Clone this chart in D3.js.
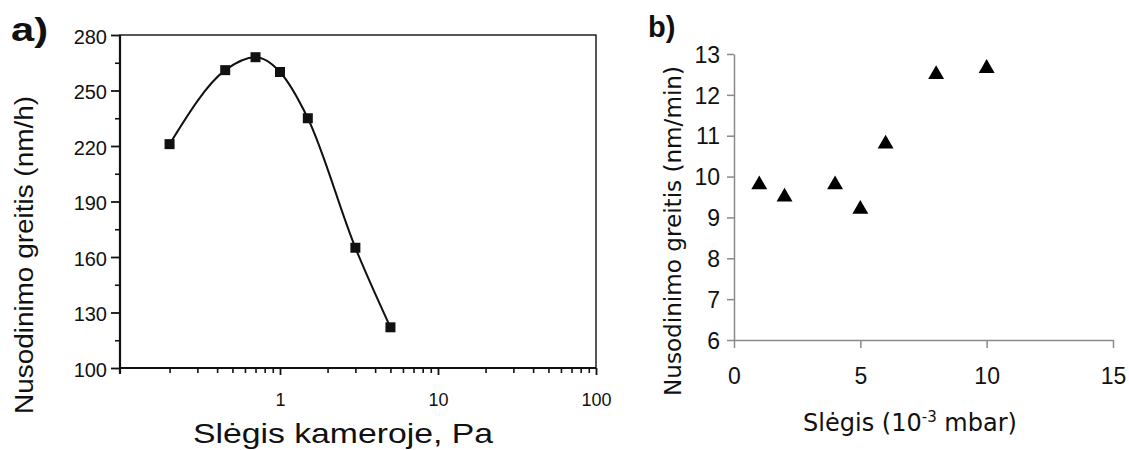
<!DOCTYPE html>
<html>
<head>
<meta charset="utf-8">
<script src="https://cdn.jsdelivr.net/npm/d3@7"></script>
<style>
  html, body { margin: 0; padding: 0; background: #fff; }
  svg { display: block; }
</style>
</head>
<body>
<div id="chart"></div>
<script>
// --- data, panel a (log x) ---
const pressureA = [0.2, 0.45, 0.7, 1, 1.5, 3, 5];
const rateA = [221, 261, 268, 260, 235, 165, 122];
const yTicksA = [100, 130, 160, 190, 220, 250, 280];
const yMinorA = [115, 145, 175, 205, 235, 265];
const xTicksA = [1, 10, 100];
const xMinorA = [0.2, 0.3, 0.4, 0.5, 0.6, 0.7, 0.8, 0.9, 2, 3, 4, 5, 6, 7, 8, 9, 20, 30, 40, 50, 60, 70, 80, 90];

// --- data, panel b ---
const pressureB = [1, 2, 4, 5, 6, 8, 10];
const rateB = [9.8, 9.5, 9.8, 9.2, 10.8, 12.5, 12.65];
const yTicksB = [6, 7, 8, 9, 10, 11, 12, 13];
const xTicksB = [0, 5, 10, 15];

(function () {
  'use strict';

  const W = 1129, H = 450;
  const ARIAL = '"Liberation Sans", Arial, Helvetica, sans-serif';
  const VERD = '"DejaVu Sans", Verdana, sans-serif';
  const INK = '#111';

  const svg = d3.select('#chart').append('svg')
    .attr('width', W).attr('height', H);
  svg.append('rect').attr('width', W).attr('height', H).attr('fill', '#fff');

  // ============ panel a ============
  const A = { left: 120, right: 596, top: 35, bottom: 368 };
  const xA = d3.scaleLog().domain([0.1, 100]).range([122, A.right]);
  const yA = d3.scaleLinear().domain([100, 280]).range([A.bottom, A.top]);
  const ga = svg.append('g');

  // frame (bottom/left heavier)
  ga.append('rect')
    .attr('x', A.left).attr('y', A.top)
    .attr('width', A.right - A.left).attr('height', A.bottom - A.top)
    .attr('fill', 'none').attr('stroke', INK).attr('stroke-width', 1.4);
  ga.append('line').attr('x1', A.left).attr('x2', A.right).attr('y1', A.bottom).attr('y2', A.bottom)
    .attr('stroke', INK).attr('stroke-width', 2.2);
  ga.append('line').attr('x1', A.left).attr('x2', A.left).attr('y1', A.top).attr('y2', A.bottom + 6)
    .attr('stroke', INK).attr('stroke-width', 2.2);

  // y axis
  ga.append('g').attr('transform', `translate(${A.left},0)`)
    .call(d3.axisLeft(yA).tickValues(yTicksA).tickSize(9).tickPadding(4).tickFormat(d3.format('d')))
    .call(g => g.select('.domain').remove())
    .call(g => g.selectAll('.tick line').attr('stroke', INK).attr('stroke-width', 1.8))
    .call(g => g.selectAll('.tick text')
      .attr('font-family', ARIAL).attr('font-size', 20).attr('fill', INK).attr('dy', '0.42em'));
  ga.append('g').attr('transform', `translate(${A.left},0)`)
    .call(d3.axisLeft(yA).tickValues(yMinorA).tickSize(5).tickFormat(''))
    .call(g => g.select('.domain').remove())
    .call(g => g.selectAll('.tick line').attr('stroke', INK).attr('stroke-width', 1.6));

  // x axis
  ga.append('g').attr('transform', `translate(0,${A.bottom})`)
    .call(d3.axisBottom(xA).tickValues(xTicksA).tickSize(7).tickPadding(18).tickFormat(d3.format('d')))
    .call(g => g.select('.domain').remove())
    .call(g => g.selectAll('.tick line').attr('stroke', INK).attr('stroke-width', 1.8))
    .call(g => g.selectAll('.tick text')
      .attr('font-family', ARIAL).attr('font-size', 18).attr('fill', INK));
  ga.append('g').attr('transform', `translate(0,${A.bottom})`)
    .call(d3.axisBottom(xA).tickValues(xMinorA).tickSize(5).tickFormat(''))
    .call(g => g.select('.domain').remove())
    .call(g => g.selectAll('.tick line').attr('stroke', INK).attr('stroke-width', 1.6));

  // curve + markers
  const ptsA = pressureA.map((p, i) => ({ x: p, y: rateA[i] }));
  ga.append('path')
    .datum(ptsA)
    .attr('fill', 'none').attr('stroke', INK).attr('stroke-width', 2)
    .attr('d', d3.line().x(d => xA(d.x)).y(d => yA(d.y)).curve(d3.curveMonotoneX));
  ga.selectAll('.sq').data(ptsA).enter().append('path')
    .attr('transform', d => `translate(${xA(d.x)},${yA(d.y)})`)
    .attr('d', d3.symbol().type(d3.symbolSquare).size(100))
    .attr('fill', INK);

  // labels
  ga.append('text')
    .attr('x', 11).attr('y', 41)
    .attr('font-family', ARIAL).attr('font-size', 34).attr('font-weight', 'bold').attr('fill', INK)
    .attr('textLength', 37).attr('lengthAdjust', 'spacingAndGlyphs')
    .text('a)');
  ga.append('text')
    .attr('transform', 'translate(33,255) rotate(-90)')
    .attr('text-anchor', 'middle')
    .attr('font-family', ARIAL).attr('font-size', 25).attr('fill', INK)
    .attr('textLength', 318).attr('lengthAdjust', 'spacingAndGlyphs')
    .text('Nusodinimo greitis (nm/h)');
  ga.append('text')
    .attr('x', 343).attr('y', 443).attr('text-anchor', 'middle')
    .attr('font-family', ARIAL).attr('font-size', 28).attr('fill', INK)
    .attr('textLength', 300).attr('lengthAdjust', 'spacingAndGlyphs')
    .text('Slėgis kameroje, Pa');

  // ============ panel b ============
  const B = { left: 734, right: 1113, top: 54, bottom: 340 };
  const xB = d3.scaleLinear().domain([0, 15]).range([B.left, B.right]);
  const yB = d3.scaleLinear().domain([6, 13]).range([B.bottom, B.top]);
  const gb = svg.append('g');
  const axisCol = '#8a8a8a';

  gb.append('g').attr('transform', `translate(${B.left},0)`)
    .call(d3.axisLeft(yB).tickValues(yTicksB).tickSize(7).tickPadding(7).tickSizeOuter(0).tickFormat(d3.format('d')))
    .call(g => g.select('.domain').attr('stroke', axisCol).attr('stroke-width', 1.5))
    .call(g => g.selectAll('.tick line').attr('stroke', axisCol).attr('stroke-width', 1.5))
    .call(g => g.selectAll('.tick text')
      .attr('font-family', ARIAL).attr('font-size', 23).attr('fill', INK).attr('dy', '0.36em'));
  gb.append('g').attr('transform', `translate(0,${B.bottom})`)
    .call(d3.axisBottom(xB).tickValues(xTicksB).tickSize(8).tickPadding(20).tickSizeOuter(0).tickFormat(d3.format('d')))
    .call(g => g.select('.domain').attr('stroke', axisCol).attr('stroke-width', 1.5))
    .call(g => g.selectAll('.tick line').attr('stroke', axisCol).attr('stroke-width', 1.5))
    .call(g => g.selectAll('.tick text')
      .attr('font-family', ARIAL).attr('font-size', 23).attr('fill', INK));

  gb.selectAll('.tri').data(pressureB).enter().append('path')
    .attr('transform', (d, i) => `translate(${xB(d)},${yB(rateB[i])})`)
    .attr('d', d3.symbol().type(d3.symbolTriangle).size(110))
    .attr('fill', '#000');

  gb.append('text')
    .attr('x', 648).attr('y', 37)
    .attr('font-family', ARIAL).attr('font-size', 29).attr('font-weight', 'bold').attr('fill', INK)
    .text('b)');
  gb.append('text')
    .attr('transform', 'translate(681,231) rotate(-90)')
    .attr('text-anchor', 'middle')
    .attr('font-family', VERD).attr('font-size', 23).attr('fill', INK)
    .attr('textLength', 330).attr('lengthAdjust', 'spacingAndGlyphs')
    .text('Nusodinimo greitis (nm/min)');
  const xl = gb.append('text')
    .attr('x', 910).attr('y', 431).attr('text-anchor', 'middle')
    .attr('font-family', VERD).attr('font-size', 24).attr('fill', INK);
  xl.append('tspan').text('Slėgis (10');
  xl.append('tspan').attr('font-size', 15).attr('dy', -9).text('-3');
  xl.append('tspan').attr('dy', 9).text(' mbar)');
})();
</script>
</body>
</html>
